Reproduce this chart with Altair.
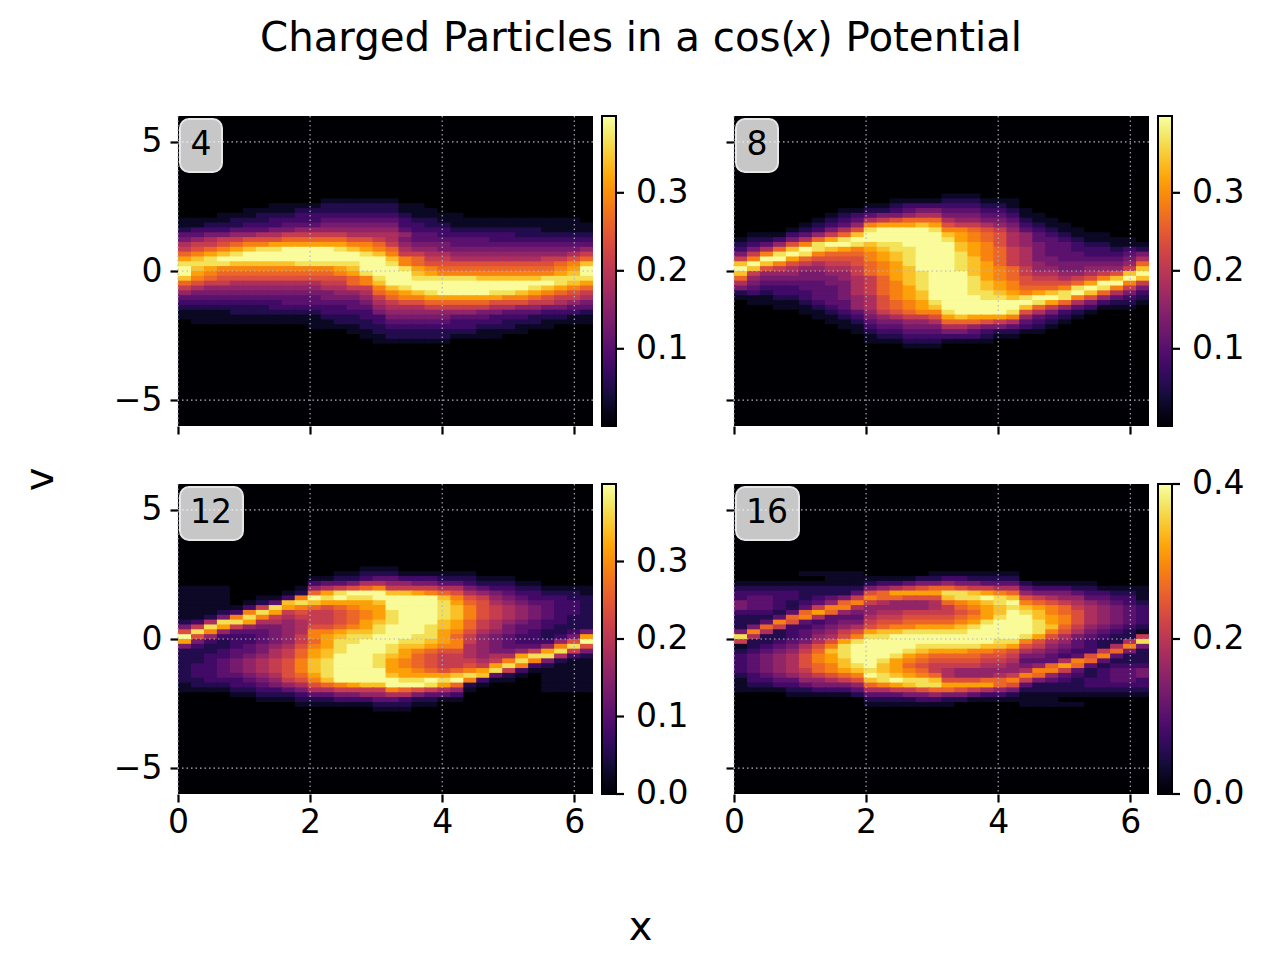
import altair as alt
import pandas as pd

# Colour level of each cell (hex digit, 0 = 0.0 ... f = 0.395); rows run from v=+3.19 down to v=-3.19,
# columns from x=0 to x=2*pi. Cells outside this band are at the black background level.
panel_4 = [
"00000000000000000000000000000000","00000000000000000000000000000000",
"00000000000111111000000000000000","00000001111222222110000000000000",
"00000111122222222111000000000000","00011122233333333211110000000000",
"11112223333444444322111111111110","11222333444555555332211111111111",
"23334445566666666433322222221111","44556677888887777644333333222222",
"56788999aaaaa9987544444433333333","7889abbccccccbba8655544444444444",
"89abcdeeffffedcba766555555555556","abcdefffffffffedb887766666666678",
"cdefffffffffffffdba887777777889a","eeeedddddeeeeeffeba9999999999abd",
"fdcbbbbbbbbbcdfffecbaaaaaaaaabcf","fcbaaaaaaaaabcefffdcbbbbbbbbbcdf",
"dba9999999999abeffeeeeedddddeeee","a988777777788abdfffffffffffffedc",
"876666666667788bdefffffffffedcba","655555555555667abcdeffffeedcba98",
"4444444444455568abbccccccbba9887","3333333344444457899aaaaa99988765",
"22222223333334467778888877665544","11112222222333356666666554443332",
"11111111111222335555544433322211","01111111111122234444433332221111",
"00000000001111223333333222111000","00000000000001122222222111100000",
"00000000000000112222211110000000","00000000000000011111100000000000",
"00000000000000000000000000000000","00000000000000000000000000000000",
]
panel_8 = [
"00000000000000000000000000000000","00000000000000001110000000000000",
"00000000000011112221110000000000","00000000001123333332210000000000",
"00000000112234554443321000000000","00000001234556775554431100000000",
"0000001234789aaa7665542110000000","0000012346bcccdc9887653211000000",
"0000123579effffebba9864321100000","01113468adffffffdcba976432111000",
"122357acefffffffecba976443211110","23469beffedeefffffdcb97654432211"[:16] + "fdcb976544322111",
"357adfedcbcdeefffdcba87544333232","58befebaaabcdefffecba87544433345",
"8bffca9999bcdefffedba87554444457","dfdb987889abcefffedca8765555556a",
"fd98766778abcdfffedcba866556668d","d866655668abcdefffdcba87766789df",
"a6555555678acdefffecba988789bdfd","75444445578abdefffedcb9999acffb8",
"54333444578abcefffedcbaaabefeb85","23233344578abcdfffeedcbcdefda753",
"111223445679bcdffffeedeffeb96432","011112344679abcefffffffeca753221",
"000111234679abcdffffffda86431110","0000011234689abbeffffe9753210000",
"0000001123567889cdcccb6432100000","0000000112455667aaa9874321000000",
"00000000113445557765543210000000","00000000012334445543221100000000",
"00000000001223333332110000000000","00000000001112221111000000000000",
"00000000000001110000000000000000","00000000000000000000000000000000",
]
panel_12 = [
"00000000000000000000000000000000","00000000000000000000000000000000",
"00000000000000111000000000000000","00000000000011222111111000000000",
"00000000001122344333222111000000","00000000003445776655443222110000",
"11110000016789ab8888775433221111","1111000012acefffddcba97654332221",
"111100113bfefeefffffdb9865433322","11110124dedccccdffffeca976544332",
"1111138ecba9abccffffedb987654332","11123bec89889abcefffedb987654332",
"1125beb878889abcefffedb987654322","237eec7767889acdefffdca876543322",
"58ec86556799abcefffedca875443222","9eb6444567bbcddefffecb9765432235",
"f963334568bcdeefffeeca865433235c","c532334568aceefffeedcb865433369f",
"5322345679bcefffeddcbb7654446be9","222344578acdefffecba99765568ce85",
"223345678acdfffedca9887677cee732","223456789bdefffecba988878beb5211",
"233456789bdefffecba98898ceb32111","233456789bdeffffccba9abce8311111",
"233445679aceffffdccccded42101111","2233345689bdfffffeefefb311001111",
"12223345679abcddfffeca2100001111","1111223345778888ba98761000001111",
"00001122234455667754430000000000","00000011122233344322110000000000",
"00000000011111122211000000000000","00000000000000011100000000000000",
"00000000000000000000000000000000","00000000000000000000000000000000",
]
panel_16 = [
"00000000000000000000000000000000","00000000000000000000000000000000",
"00000000000000000000000000000000","00000111110000011111110000000000",
"00000001111111223322220000000000","11111111112334556554442111110000",
"222222222256789aa988774333221111","33333222249acccceedcba6555433221",
"3443323458baa999deefed9876644331","54432346ab876667abcdefba98765432",
"5443248bb76666678abcdedcba876543","33324aca6567788889acdfedba976543",
"2224ab74447889999abceffdcb976543","224b943455899aaaabcefffecb976543",
"25a83345679abbcccdeffffeda865432","5b72345689cddeeeeefffffeb9754321",
"e72234679beeffffffffffec97543228","82234579ceffffffffffeeb97643227e",
"1234579befffffeeeeeddc98654327b5","234568adeffffedcccbba97654338a52",
"345679bcefffecbaaaa998554349b422","345679bcdffecba99998874447ba4222",
"345679abdefdca9888877656aca42333","345678abcdedcba87666667bb8423445",
"23456789abfedcba766678ba64323445","1334466789defeed999aab8543233443",
"1223345556abcdeecccca94222233333","111122333477889aa987652222222222",
"00001111124445565543321111111111","00000000002222332211111110000000",
"00000000001111111000001111100000","00000000000000000000000000000000",
"00000000000000000000000000000000","00000000000000000000000000000000",
]
level_step = 0.395 / 15
x_step = 6.2832 / 32
v_top = 3.1875
v_step = 0.1875
overlap_x = 0.02
overlap_v = 0.03

tick_x = [0, 2, 4, 6]
tick_v = [-5, 0, 5]
labels = ["4", "8", "12", "16"]
bar_ticks = [[0.1, 0.2, 0.3], [0.1, 0.2, 0.3], [0.0, 0.1, 0.2, 0.3], [0.0, 0.2, 0.4]]
bar_labels = [[0.1, 0.2, 0.3], [0.1, 0.2, 0.3], [0.0005, 0.1, 0.2, 0.3], [0.0005, 0.2, 0.3995]]
bar_domain = [[0.001, 0.3985], [0.001, 0.3985], [0.0, 0.4], [0.0, 0.4]]
FONT = "DejaVu Sans"


def cells(rows):
    out = []
    for k, row in enumerate(rows):
        for j, ch in enumerate(row):
            out.append({"x0": j * x_step, "x1": (j + 1) * x_step + overlap_x,
                        "v0": v_top - k * v_step, "v1": v_top - (k + 1) * v_step - overlap_v,
                        "val": int(ch, 16) * level_step})
    return pd.DataFrame(out)


def panel(rows, i):
    xs = alt.Scale(domain=[0, 6.2832], nice=False, zero=False)
    ys = alt.Scale(domain=[-6, 6], nice=False, zero=False)
    cs = alt.Scale(scheme="inferno", domain=bar_domain[i])
    bottom, left = i >= 2, i % 2 == 0
    x_axis = dict(values=tick_x, labels=bottom, title=None, grid=False, domain=False, labelFlush=False, labelPadding=4)
    y_axis = dict(values=tick_v, labels=left, title=None, grid=False, domain=False, labelFlush=False, labelPadding=8)
    if i == 2:
        x_axis.update(title="x", titleX=462, titleY=113, titleFontSize=40, titleFontWeight="normal", titleFont=FONT)
    if i == 0:
        y_axis.update(title="v", titleX=-118, titleY=363, titleFontSize=40, titleFontWeight="normal", titleFont=FONT, titleAngle=270)
    heat = alt.Chart(cells(rows)).mark_rect(clip=True).encode(
        x=alt.X("x0:Q", scale=xs, axis=alt.Axis(**x_axis)), x2="x1:Q",
        y=alt.Y("v0:Q", scale=ys, axis=alt.Axis(**y_axis)), y2="v1:Q",
        color=alt.Color("val:Q", scale=cs, legend=alt.Legend(
            title=None, type="gradient", orient="right", offset=9, values=bar_labels[i],
            gradientLength=310, gradientThickness=14, gradientStrokeColor="black", gradientStrokeWidth=2,
            labelFontSize=33, labelFont=FONT, labelColor="black", labelOffset=20, labelOverlap=False,
            format=".1f")),
    )
    gx = alt.Chart(pd.DataFrame({"g": tick_x})).mark_rule(color="#b4b4c0", strokeWidth=1.1, strokeDash=[1.5, 3]).encode(
        x=alt.X("g:Q", scale=xs, axis=None))
    gy = alt.Chart(pd.DataFrame({"g": tick_v})).mark_rule(color="#b4b4c0", strokeWidth=1.1, strokeDash=[1.5, 3]).encode(
        y=alt.Y("g:Q", scale=ys, axis=None))
    wide = len(labels[i]) > 1
    box = alt.Chart(pd.DataFrame({"a": [0]})).mark_rect(
        fill="white", fillOpacity=0.78, stroke="#e6e6e6", strokeWidth=2, cornerRadius=9).encode(
        x=alt.value(2), x2=alt.value(65 if wide else 44), y=alt.value(3), y2=alt.value(56))
    txt = alt.Chart(pd.DataFrame({"a": [0]})).mark_text(
        text=labels[i], font=FONT, fontSize=33, color="black").encode(x=alt.value(33 if wide else 23), y=alt.value(29))
    bt = alt.Chart(pd.DataFrame({"g": bar_ticks[i]})).mark_rule(color="black", strokeWidth=2.2).encode(
        x=alt.value(438), x2=alt.value(446),
        y=alt.Y("g:Q", scale=alt.Scale(domain=bar_domain[i], nice=False, zero=False), axis=None))
    layers = [heat, gx, gy, box, txt, bt]
    if i == 0:
        for s, px, st in [("Charged Particles in a cos(", 82, "normal"), ("x", 615, "italic"), (") Potential", 639, "normal")]:
            layers.append(alt.Chart(pd.DataFrame({"a": [0]})).mark_text(
                text=s, font=FONT, fontSize=40.3, fontStyle=st, align="left", color="black").encode(
                x=alt.value(px), y=alt.value(-77)))
    return alt.layer(*layers).resolve_scale(x="independent", y="independent", color="independent").properties(width=415, height=310)


charts = [panel(r, i) for i, r in enumerate([panel_4, panel_8, panel_12, panel_16])]
chart = alt.concat(*charts, columns=2, bounds="flush",
                   spacing=alt.RowColnumber(row=58, column=141)).resolve_scale(
    color="independent", x="independent", y="independent"
).configure_view(fill="#000004", stroke=None).configure_axis(
    tickSize=8, tickWidth=2.2, tickColor="black", labelFontSize=33, labelFont=FONT, labelColor="black"
).properties(padding={"left": 12, "top": 11, "right": 5, "bottom": 5}, background="white")

chart.save("out.html", embed_options={"renderer": "svg", "actions": False})
